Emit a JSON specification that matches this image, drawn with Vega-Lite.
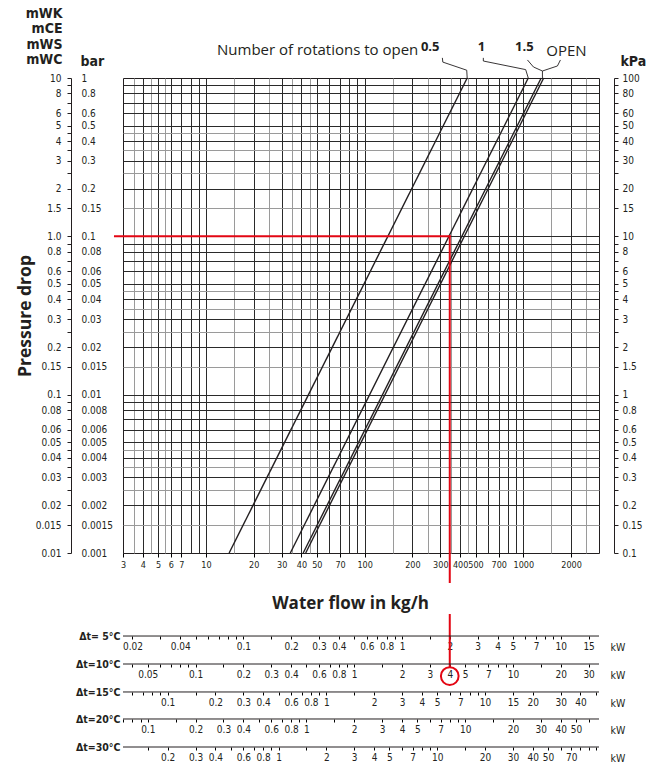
{
 "$schema": "https://vega.github.io/schema/vega-lite/v6.json",
 "width": 476, "height": 475,
 "autosize": {"type": "none"},
 "padding": {"left": 123, "top": 78, "right": 63, "bottom": 211},
 "background": "white",
 "config": {
  "view": {"stroke": "#231f20", "strokeWidth": 1},
  "axis": {"grid": false, "labelFlush": false, "labelOverlap": false, "labelBound": false,
   "labelFont": "DejaVu Sans Condensed, Liberation Sans Narrow, Liberation Sans, sans-serif", "labelFontSize": 10, "labelColor": "#231f20",
   "domainColor": "#231f20", "domainWidth": 1, "domainOpacity": 1, "tickColor": "#231f20", "tickWidth": 1, "tickOpacity": 1, "titleColor": "#231f20", "zindex": 1}
 },
 "resolve": {"scale": {"x": "independent"}, "axis": {"x": "independent", "y": "independent"}},
 "layer": [
  {
   "data": {"values": [
    {"turns": "0.5", "flow": 14.0, "bar": 0.001}, {"turns": "0.5", "flow": 443, "bar": 1},
    {"turns": "1", "flow": 34.0, "bar": 0.001}, {"turns": "1", "flow": 1075, "bar": 1},
    {"turns": "1.5", "flow": 41.0, "bar": 0.001}, {"turns": "1.5", "flow": 1296, "bar": 1},
    {"turns": "OPEN", "flow": 42.5, "bar": 0.001}, {"turns": "OPEN", "flow": 1344, "bar": 1}
   ]},
   "mark": {"type": "line", "color": "#231f20", "strokeWidth": 1.4},
   "encoding": {
    "x": {"field": "flow", "type": "quantitative", "scale": {"type": "log", "domain": [3, 3000], "nice": false},
     "axis": {"values": [4,5,6,7,8,9,10,20,30,40,50,60,70,80,90,100,200,300,400,500,600,700,800,900,1000,2000],
      "grid": true, "gridColor": "#2a2a2a", "gridWidth": 1, "domain": false, "ticks": false, "labels": false, "title": null, "zindex": 0}},
    "y": {"field": "bar", "type": "quantitative", "scale": {"type": "log", "domain": [0.001, 1], "nice": false},
     "axis": {"orient": "left", "values": [0.002,0.003,0.004,0.005,0.006,0.007,0.008,0.009,0.01,0.02,0.03,0.04,0.05,0.06,0.07,0.08,0.09,0.1,0.2,0.3,0.4,0.5,0.6,0.7,0.8,0.9],
      "grid": true, "gridColor": "#2a2a2a", "gridWidth": 1, "domain": false, "ticks": false, "labels": false, "zindex": 0,
      "title": ["mWK", "mCE", "mWS", "mWC"], "titleAngle": 0, "titleAlign": "right", "titleBaseline": "alphabetic",
      "titleX": -61, "titleY": -61, "titleLineHeight": 15.5, "titleFontSize": 14, "titleFontWeight": "bold",
      "titleFont": "DejaVu Sans Condensed, Liberation Sans Narrow, Liberation Sans, sans-serif"}},
    "detail": {"field": "turns"}
   }
  },
  {
   "data": {"values": [
    {"seg": "a", "flow": 2.67, "bar": 0.1}, {"seg": "a", "flow": 344, "bar": 0.1},
    {"seg": "b", "flow": 344, "bar": 0.1}, {"seg": "b", "flow": 344, "bar": 0.000656},
    {"seg": "c", "flow": 344, "bar": 0.000406}, {"seg": "c", "flow": 344, "bar": 0.000193}
   ]},
   "mark": {"type": "line", "color": "#e30613", "strokeWidth": 2, "strokeCap": "square"},
   "encoding": {
    "x": {"field": "flow", "type": "quantitative", "scale": {"type": "log", "domain": [3, 3000], "nice": false},
     "axis": {"values": [3.5,4.5,5.5,15,25,35,45,150,250,350,450,1500,2500],
      "grid": true, "gridColor": "#9a9a9a", "gridWidth": 1, "domain": false, "ticks": false, "labels": false, "title": null, "zindex": 0}},
    "y": {"field": "bar", "type": "quantitative", "scale": {"type": "log", "domain": [0.001, 1], "nice": false},
     "axis": {"orient": "left", "values": [0.0015,0.0025,0.0035,0.0045,0.015,0.025,0.035,0.045,0.15,0.25,0.35,0.45],
      "grid": true, "gridColor": "#9a9a9a", "gridWidth": 1, "domain": false, "ticks": false, "labels": false, "title": null, "zindex": 0}},
    "detail": {"field": "seg"}
   }
  },
  {
   "data": {"values": [
    {"row": "5", "bar": 0.0002990}, {"row": "10", "bar": 0.0001990}, {"row": "15", "bar": 0.0001325},
    {"row": "20", "bar": 0.00008947}, {"row": "30", "bar": 0.00005953}
   ]},
   "mark": {"type": "rule", "color": "#231f20", "strokeWidth": 1},
   "encoding": {
    "y": {"field": "bar", "type": "quantitative", "scale": {"type": "log", "domain": [0.001, 1], "nice": false}, "axis": null}
   }
  },
  {
   "data": {"values": [{"flow": 344, "bar": 0.000167}]},
   "mark": {"type": "point", "shape": "circle", "filled": false, "stroke": "#e30613", "strokeWidth": 2, "size": 314, "opacity": 1},
   "encoding": {
    "x": {"field": "flow", "type": "quantitative", "scale": {"type": "log", "domain": [3, 3000], "nice": false},
     "axis": {"orient": "bottom", "values": [3,4,5,6,7,10,20,30,40,50,70,100,200,300,400,500,700,1000,2000], "format": "d",
      "tickSize": 4, "labelPadding": 3, "labelFontSize": 9, "domain": false, "ticks": true, "labels": true, "tickColor": "#000000",
      "title": "Water flow in kg/h", "titleFont": "Open Sans, Lato, sans-serif", "titleFontSize": 17, "titleFontWeight": "bold",
      "titleX": 227, "titleY": 50, "titleAlign": "center", "titleBaseline": "middle"}},
    "y": {"field": "bar", "type": "quantitative", "scale": {"type": "log", "domain": [0.001, 1], "nice": false},
     "axis": {"orient": "left", "offset": 52,
      "values": [0.001,0.0015,0.002,0.0025,0.003,0.0035,0.004,0.0045,0.005,0.006,0.007,0.008,0.009,0.01,0.015,0.02,0.025,0.03,0.035,0.04,0.045,0.05,0.06,0.07,0.08,0.09,0.1,0.15,0.2,0.25,0.3,0.35,0.4,0.45,0.5,0.6,0.7,0.8,0.9,1],
      "labelExpr": "indexof([0.001,0.0015,0.002,0.003,0.004,0.005,0.006,0.008,0.01,0.015,0.02,0.03,0.04,0.05,0.06,0.08,0.1,0.15,0.2,0.3,0.4,0.5,0.6,0.8,1], datum.value) < 0 ? '' : (datum.value == 0.1 ? '1.0' : format(datum.value * 10, '~g'))",
      "tickSize": 4, "labelPadding": 6, "domain": true, "ticks": true, "labels": true,
      "title": "Pressure drop", "titleFont": "Open Sans, Lato, sans-serif", "titleFontSize": 17.5, "titleFontWeight": "bold",
      "titleAngle": -90, "titleX": -46, "titleY": 237.5, "titleAlign": "center", "titleBaseline": "middle"}}
   }
  },
  {
   "data": {"values": [{"text": "Number of rotations to open", "flow": 218, "bar": 1.397}]},
   "mark": {"type": "text", "align": "right", "baseline": "alphabetic", "font": "Open Sans, Lato, sans-serif", "fontSize": 15, "color": "#231f20"},
   "encoding": {
    "x": {"field": "flow", "type": "quantitative", "scale": {"type": "log", "domain": [3, 3000], "nice": false}, "axis": null},
    "y": {"field": "bar", "type": "quantitative", "scale": {"type": "log", "domain": [0.001, 1], "nice": false}, "axis": null},
    "text": {"field": "text"}
   }
  },
  {
   "data": {"values": [{"text": "0.5", "flow": 259, "bar": 1.481}, {"text": "1", "flow": 544, "bar": 1.481}, {"text": "1.5", "flow": 1016, "bar": 1.481}]},
   "mark": {"type": "text", "align": "center", "baseline": "alphabetic", "font": "Open Sans, Lato, sans-serif", "fontSize": 13, "fontWeight": "bold", "color": "#231f20"},
   "encoding": {
    "x": {"field": "flow", "type": "quantitative", "scale": {"type": "log", "domain": [3, 3000], "nice": false}, "axis": null},
    "y": {"field": "bar", "type": "quantitative", "scale": {"type": "log", "domain": [0.001, 1], "nice": false},
     "axis": {"orient": "left", "offset": 52,
      "values": [0.001,0.0015,0.002,0.003,0.004,0.005,0.006,0.008,0.01,0.015,0.02,0.03,0.04,0.05,0.06,0.08,0.1,0.15,0.2,0.3,0.4,0.5,0.6,0.8,1],
      "labelExpr": "format(datum.value, '~g')", "ticks": false, "domain": false, "labelAlign": "left", "labelPadding": -10,
      "title": "bar", "titleAngle": 0, "titleAlign": "left", "titleBaseline": "alphabetic", "titleX": 9, "titleY": -13,
      "titleFontSize": 14, "titleFontWeight": "bold", "titleFont": "DejaVu Sans Condensed, Liberation Sans Narrow, Liberation Sans, sans-serif"}},
    "text": {"field": "text"}
   }
  },
  {
   "data": {"values": [{"text": "OPEN", "flow": 1871, "bar": 1.377}]},
   "mark": {"type": "text", "align": "center", "baseline": "alphabetic", "font": "Open Sans, Lato, sans-serif", "fontSize": 15, "color": "#231f20"},
   "encoding": {
    "x": {"field": "flow", "type": "quantitative", "scale": {"type": "log", "domain": [3, 3000], "nice": false}, "axis": null},
    "y": {"field": "bar", "type": "quantitative", "scale": {"type": "log", "domain": [0.001, 1], "nice": false}, "axis": null},
    "text": {"field": "text"}
   }
  },
  {
   "data": {"values": [
    {"id": "0.5", "pt": 1, "flow": 309, "bar": 1.34}, {"id": "0.5", "pt": 2, "flow": 311, "bar": 1.26}, {"id": "0.5", "pt": 3, "flow": 440, "bar": 1.12}, {"id": "0.5", "pt": 4, "flow": 443, "bar": 1.0},
    {"id": "1", "pt": 1, "flow": 560, "bar": 1.34}, {"id": "1", "pt": 2, "flow": 560, "bar": 1.28}, {"id": "1", "pt": 3, "flow": 1035, "bar": 1.13}, {"id": "1", "pt": 4, "flow": 1075, "bar": 1.0},
    {"id": "1.5", "pt": 1, "flow": 1062, "bar": 1.30}, {"id": "1.5", "pt": 2, "flow": 1159, "bar": 1.174}, {"id": "1.5", "pt": 3, "flow": 1320, "bar": 1.107}, {"id": "1.5", "pt": 4, "flow": 1320, "bar": 1.0},
    {"id": "OPEN", "pt": 1, "flow": 1714, "bar": 1.30}, {"id": "OPEN", "pt": 2, "flow": 1641, "bar": 1.191}, {"id": "OPEN", "pt": 3, "flow": 1320, "bar": 1.107}
   ]},
   "mark": {"type": "line", "color": "#231f20", "strokeWidth": 0.9},
   "encoding": {
    "x": {"field": "flow", "type": "quantitative", "scale": {"type": "log", "domain": [3, 3000], "nice": false}, "axis": null},
    "y": {"field": "bar", "type": "quantitative", "scale": {"type": "log", "domain": [0.001, 1], "nice": false},
     "axis": {"orient": "right", "offset": 15,
      "values": [0.001,0.0015,0.002,0.0025,0.003,0.0035,0.004,0.0045,0.005,0.006,0.007,0.008,0.009,0.01,0.015,0.02,0.025,0.03,0.035,0.04,0.045,0.05,0.06,0.07,0.08,0.09,0.1,0.15,0.2,0.25,0.3,0.35,0.4,0.45,0.5,0.6,0.7,0.8,0.9,1],
      "labelExpr": "indexof([0.001,0.0015,0.002,0.003,0.004,0.005,0.006,0.008,0.01,0.015,0.02,0.03,0.04,0.05,0.06,0.08,0.1,0.15,0.2,0.3,0.4,0.5,0.6,0.8,1], datum.value) < 0 ? '' : format(datum.value * 100, '~g')",
      "tickSize": 4, "labelPadding": 4, "domain": true, "ticks": true,
      "title": "kPa", "titleAngle": 0, "titleAlign": "left", "titleBaseline": "alphabetic", "titleX": 6, "titleY": -13,
      "titleFontSize": 14, "titleFontWeight": "bold", "titleFont": "DejaVu Sans Condensed, Liberation Sans Narrow, Liberation Sans, sans-serif"}},
    "detail": {"field": "id"},
    "order": {"field": "pt"}
   }
  },
  {
   "data": {"values": [{"kW": 0.017445}, {"kW": 17.445}]},
   "mark": {"type": "point", "opacity": 0},
   "encoding": {
    "x": {"field": "kW", "type": "quantitative", "scale": {"type": "log", "domain": [0.017445, 17.445], "nice": false},
     "axis": {"orient": "bottom", "offset": 83,
      "values": [0.02,0.03,0.04,0.05,0.06,0.07,0.08,0.09,0.1,0.15,0.2,0.3,0.4,0.5,0.6,0.7,0.8,0.9,1,1.5,2,3,4,5,6,7,8,9,10,15],
      "labelExpr": "indexof([0.02,0.04,0.1,0.2,0.3,0.4,0.6,0.8,1,2,3,4,5,7,10,15], datum.value) < 0 ? '' : format(datum.value, '~g')",
      "tickSize": 3, "labelPadding": 2, "domain": false, "ticks": true, "tickColor": "#000000",
      "title": "kW", "titleX": 487, "titleY": 11, "titleAlign": "left", "titleBaseline": "middle", "titleFontSize": 10.5, "titleFontWeight": "normal",
      "titleFont": "DejaVu Sans Condensed, Liberation Sans Narrow, Liberation Sans, sans-serif"}},
    "y": {"datum": 0.01, "type": "quantitative", "scale": {"type": "log", "domain": [0.001, 1], "nice": false},
     "axis": {"orient": "left", "domain": false, "ticks": false, "labels": false,
      "title": "Δt= 5°C", "titleAngle": 0, "titleAlign": "right", "titleBaseline": "middle", "titleX": -3, "titleY": 558,
      "titleFontSize": 10.5, "titleFontWeight": "bold", "titleFont": "DejaVu Sans Condensed, Liberation Sans Narrow, Liberation Sans, sans-serif"}}
   }
  },
  {
   "data": {"values": [{"kW": 0.03489}, {"kW": 34.89}]},
   "mark": {"type": "point", "opacity": 0},
   "encoding": {
    "x": {"field": "kW", "type": "quantitative", "scale": {"type": "log", "domain": [0.03489, 34.89], "nice": false},
     "axis": {"orient": "bottom", "offset": 111,
      "values": [0.04,0.05,0.06,0.07,0.08,0.09,0.1,0.15,0.2,0.3,0.4,0.5,0.6,0.7,0.8,0.9,1,1.5,2,3,4,5,6,7,8,9,10,15,20,30],
      "labelExpr": "indexof([0.05,0.1,0.2,0.3,0.4,0.6,0.8,1,2,3,4,5,7,10,20,30], datum.value) < 0 ? '' : format(datum.value, '~g')",
      "tickSize": 3, "labelPadding": 2, "domain": false, "ticks": true, "tickColor": "#000000",
      "title": "kW", "titleX": 487, "titleY": 11, "titleAlign": "left", "titleBaseline": "middle", "titleFontSize": 10.5, "titleFontWeight": "normal",
      "titleFont": "DejaVu Sans Condensed, Liberation Sans Narrow, Liberation Sans, sans-serif"}},
    "y": {"datum": 0.01, "type": "quantitative", "scale": {"type": "log", "domain": [0.001, 1], "nice": false},
     "axis": {"orient": "left", "domain": false, "ticks": false, "labels": false,
      "title": "Δt=10°C", "titleAngle": 0, "titleAlign": "right", "titleBaseline": "middle", "titleX": -3, "titleY": 586,
      "titleFontSize": 10.5, "titleFontWeight": "bold", "titleFont": "DejaVu Sans Condensed, Liberation Sans Narrow, Liberation Sans, sans-serif"}}
   }
  },
  {
   "data": {"values": [{"kW": 0.052335}, {"kW": 52.335}]},
   "mark": {"type": "point", "opacity": 0},
   "encoding": {
    "x": {"field": "kW", "type": "quantitative", "scale": {"type": "log", "domain": [0.052335, 52.335], "nice": false},
     "axis": {"orient": "bottom", "offset": 139,
      "values": [0.06,0.07,0.08,0.09,0.1,0.15,0.2,0.3,0.4,0.5,0.6,0.7,0.8,0.9,1,1.5,2,3,4,5,6,7,8,9,10,15,20,30,40,50],
      "labelExpr": "indexof([0.1,0.2,0.3,0.4,0.6,0.8,1,2,3,4,5,7,10,15,20,30,40], datum.value) < 0 ? '' : format(datum.value, '~g')",
      "tickSize": 3, "labelPadding": 2, "domain": false, "ticks": true, "tickColor": "#000000",
      "title": "kW", "titleX": 487, "titleY": 11, "titleAlign": "left", "titleBaseline": "middle", "titleFontSize": 10.5, "titleFontWeight": "normal",
      "titleFont": "DejaVu Sans Condensed, Liberation Sans Narrow, Liberation Sans, sans-serif"}},
    "y": {"datum": 0.01, "type": "quantitative", "scale": {"type": "log", "domain": [0.001, 1], "nice": false},
     "axis": {"orient": "left", "domain": false, "ticks": false, "labels": false,
      "title": "Δt=15°C", "titleAngle": 0, "titleAlign": "right", "titleBaseline": "middle", "titleX": -3, "titleY": 614,
      "titleFontSize": 10.5, "titleFontWeight": "bold", "titleFont": "DejaVu Sans Condensed, Liberation Sans Narrow, Liberation Sans, sans-serif"}}
   }
  },
  {
   "data": {"values": [{"kW": 0.06978}, {"kW": 69.78}]},
   "mark": {"type": "point", "opacity": 0},
   "encoding": {
    "x": {"field": "kW", "type": "quantitative", "scale": {"type": "log", "domain": [0.06978, 69.78], "nice": false},
     "axis": {"orient": "bottom", "offset": 166,
      "values": [0.07,0.08,0.09,0.1,0.15,0.2,0.3,0.4,0.5,0.6,0.7,0.8,0.9,1,1.5,2,3,4,5,6,7,8,9,10,15,20,30,40,50,60],
      "labelExpr": "indexof([0.1,0.2,0.3,0.4,0.6,0.8,1,2,3,4,5,7,10,20,30,40,50], datum.value) < 0 ? '' : format(datum.value, '~g')",
      "tickSize": 3, "labelPadding": 2, "domain": false, "ticks": true, "tickColor": "#000000",
      "title": "kW", "titleX": 487, "titleY": 11, "titleAlign": "left", "titleBaseline": "middle", "titleFontSize": 10.5, "titleFontWeight": "normal",
      "titleFont": "DejaVu Sans Condensed, Liberation Sans Narrow, Liberation Sans, sans-serif"}},
    "y": {"datum": 0.01, "type": "quantitative", "scale": {"type": "log", "domain": [0.001, 1], "nice": false},
     "axis": {"orient": "left", "domain": false, "ticks": false, "labels": false,
      "title": "Δt=20°C", "titleAngle": 0, "titleAlign": "right", "titleBaseline": "middle", "titleX": -3, "titleY": 641,
      "titleFontSize": 10.5, "titleFontWeight": "bold", "titleFont": "DejaVu Sans Condensed, Liberation Sans Narrow, Liberation Sans, sans-serif"}}
   }
  },
  {
   "data": {"values": [{"kW": 0.10467}, {"kW": 104.67}]},
   "mark": {"type": "point", "opacity": 0},
   "encoding": {
    "x": {"field": "kW", "type": "quantitative", "scale": {"type": "log", "domain": [0.10467, 104.67], "nice": false},
     "axis": {"orient": "bottom", "offset": 194,
      "values": [0.15,0.2,0.3,0.4,0.5,0.6,0.7,0.8,0.9,1,1.5,2,3,4,5,6,7,8,9,10,15,20,30,40,50,60,70,80,90,100],
      "labelExpr": "indexof([0.2,0.3,0.4,0.6,0.8,1,2,3,4,5,7,10,20,30,40,50,70], datum.value) < 0 ? '' : format(datum.value, '~g')",
      "tickSize": 3, "labelPadding": 2, "domain": false, "ticks": true, "tickColor": "#000000",
      "title": "kW", "titleX": 487, "titleY": 11, "titleAlign": "left", "titleBaseline": "middle", "titleFontSize": 10.5, "titleFontWeight": "normal",
      "titleFont": "DejaVu Sans Condensed, Liberation Sans Narrow, Liberation Sans, sans-serif"}},
    "y": {"datum": 0.01, "type": "quantitative", "scale": {"type": "log", "domain": [0.001, 1], "nice": false},
     "axis": {"orient": "left", "domain": false, "ticks": false, "labels": false,
      "title": "Δt=30°C", "titleAngle": 0, "titleAlign": "right", "titleBaseline": "middle", "titleX": -3, "titleY": 669,
      "titleFontSize": 10.5, "titleFontWeight": "bold", "titleFont": "DejaVu Sans Condensed, Liberation Sans Narrow, Liberation Sans, sans-serif"}}
   }
  }
 ]
}
